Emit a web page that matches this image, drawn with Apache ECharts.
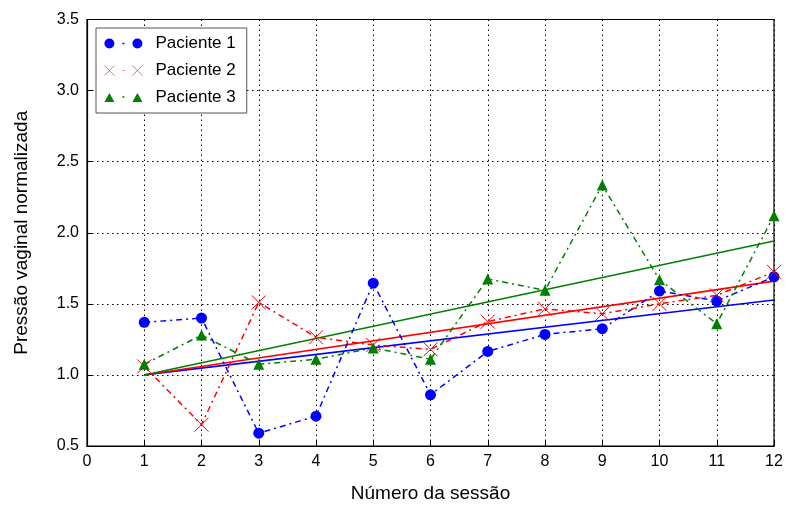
<!DOCTYPE html>
<html><head><meta charset="utf-8">
<script src="https://cdn.jsdelivr.net/npm/echarts@6/dist/echarts.min.js"></script>
<style>html,body{margin:0;padding:0;background:#fff}#c{width:787px;height:508px}</style>
</head><body><div id="c"></div>
<script>
const sessions = [1,2,3,4,5,6,7,8,9,10,11,12];
const paciente1 = [1.37,1.40,0.59,0.71,1.645,0.86,1.165,1.285,1.325,1.59,1.52,1.69];
const paciente2 = [1.06,0.65,1.51,1.265,1.21,1.18,1.375,1.465,1.43,1.50,1.56,1.725];
const paciente3 = [1.075,1.28,1.075,1.11,1.19,1.11,1.675,1.595,2.335,1.67,1.36,2.12];
const trendStart = [1, 1.0];
const trendEnd1 = [12, 1.527];
const trendEnd2 = [12, 1.66];
const trendEnd3 = [12, 1.942];
const seriesNames = ['Paciente 1','Paciente 2','Paciente 3'];

const BLUE='#0000ff', RED='#ff0000', GREEN='#008000';
const dashDot=[6,4,2,4];
function pts(arr){return sessions.map((s,i)=>[s,arr[i]]);}
const chart = echarts.init(document.getElementById('c'));
const font='Liberation Sans';
const iconCircle='path://M0,5A5,5 0 1,0 10,5A5,5 0 1,0 0,5Z M28,5A5,5 0 1,0 38,5A5,5 0 1,0 28,5Z M18,4.3h2v1.4h-2Z';
const iconX='path://M0,0L10,10M10,0L0,10M28,0L38,10M38,0L28,10M18,5L20,5';
const iconTri='path://M0,10L5,1L10,10Z M28,10L33,1L38,10Z M18,4.3h2v1.4h-2Z';
chart.setOption({
  animation:false,
  backgroundColor:'#fff',
  grid:{left:87,right:13,top:19.5,bottom:58.5,show:true,borderColor:'#000',borderWidth:1.2},
  legend:{
    data:[{name:seriesNames[0],icon:iconCircle},
          {name:seriesNames[1],icon:iconX,itemStyle:{color:'transparent',borderColor:'#ff4040',borderWidth:0.8}},
          {name:seriesNames[2],icon:iconTri}],
    orient:'vertical', left:96, top:28,
    backgroundColor:'#fff', borderColor:'#555', borderWidth:1, borderRadius:0,
    padding:[7,11,7,8], itemGap:10, itemWidth:38, itemHeight:10,
    textStyle:{fontFamily:font,fontSize:17,color:'#000',padding:[0,0,0,8]}
  },
  xAxis:{
    type:'value', min:0, max:12, interval:1,
    name:'Número da sessão', nameLocation:'middle', nameGap:38,
    nameTextStyle:{fontFamily:font,fontSize:19,color:'#000'},
    axisLine:{lineStyle:{color:'#000',width:1.2}},
    axisTick:{inside:true,length:5,lineStyle:{color:'#000'}},
    axisLabel:{fontFamily:font,fontSize:16,color:'#000',margin:8},
    splitLine:{show:true,lineStyle:{color:'#000',type:[1.5,3.5],width:1}}
  },
  yAxis:{
    type:'value', min:0.5, max:3.5, interval:0.5,
    name:'Pressão vaginal normalizada', nameLocation:'middle', nameGap:56,
    nameTextStyle:{fontFamily:font,fontSize:19,color:'#000'},
    axisLine:{show:true,lineStyle:{color:'#000',width:1.2}},
    axisTick:{show:true,inside:true,length:5,lineStyle:{color:'#000'}},
    axisLabel:{fontFamily:font,fontSize:16,color:'#000',margin:8,formatter:v=>v.toFixed(1)},
    splitLine:{show:true,lineStyle:{color:'#000',type:[1.5,3.5],width:1}}
  },
  series:[
    {name:'Paciente 1',type:'line',data:pts(paciente1),symbol:'circle',symbolSize:11,
      itemStyle:{color:BLUE},lineStyle:{color:BLUE,width:1.5,type:dashDot},z:3},
    {name:'Paciente 2',type:'line',data:pts(paciente2),symbol:'path://M0,0L10,10M10,0L0,10',symbolSize:14,
      itemStyle:{color:'transparent',borderColor:RED,borderWidth:1},lineStyle:{color:RED,width:1.5,type:dashDot},z:3},
    {name:'Paciente 3',type:'line',data:pts(paciente3),symbol:'triangle',symbolSize:11,
      itemStyle:{color:GREEN},lineStyle:{color:GREEN,width:1.5,type:dashDot},z:3},
    {name:'t1',type:'line',data:[trendStart,trendEnd1],symbol:'none',lineStyle:{color:BLUE,width:1.6},z:2},
    {name:'t2',type:'line',data:[trendStart,trendEnd2],symbol:'none',lineStyle:{color:RED,width:1.6},z:2},
    {name:'t3',type:'line',data:[trendStart,trendEnd3],symbol:'none',lineStyle:{color:GREEN,width:1.6},z:2}
  ]
});
</script></body></html>
